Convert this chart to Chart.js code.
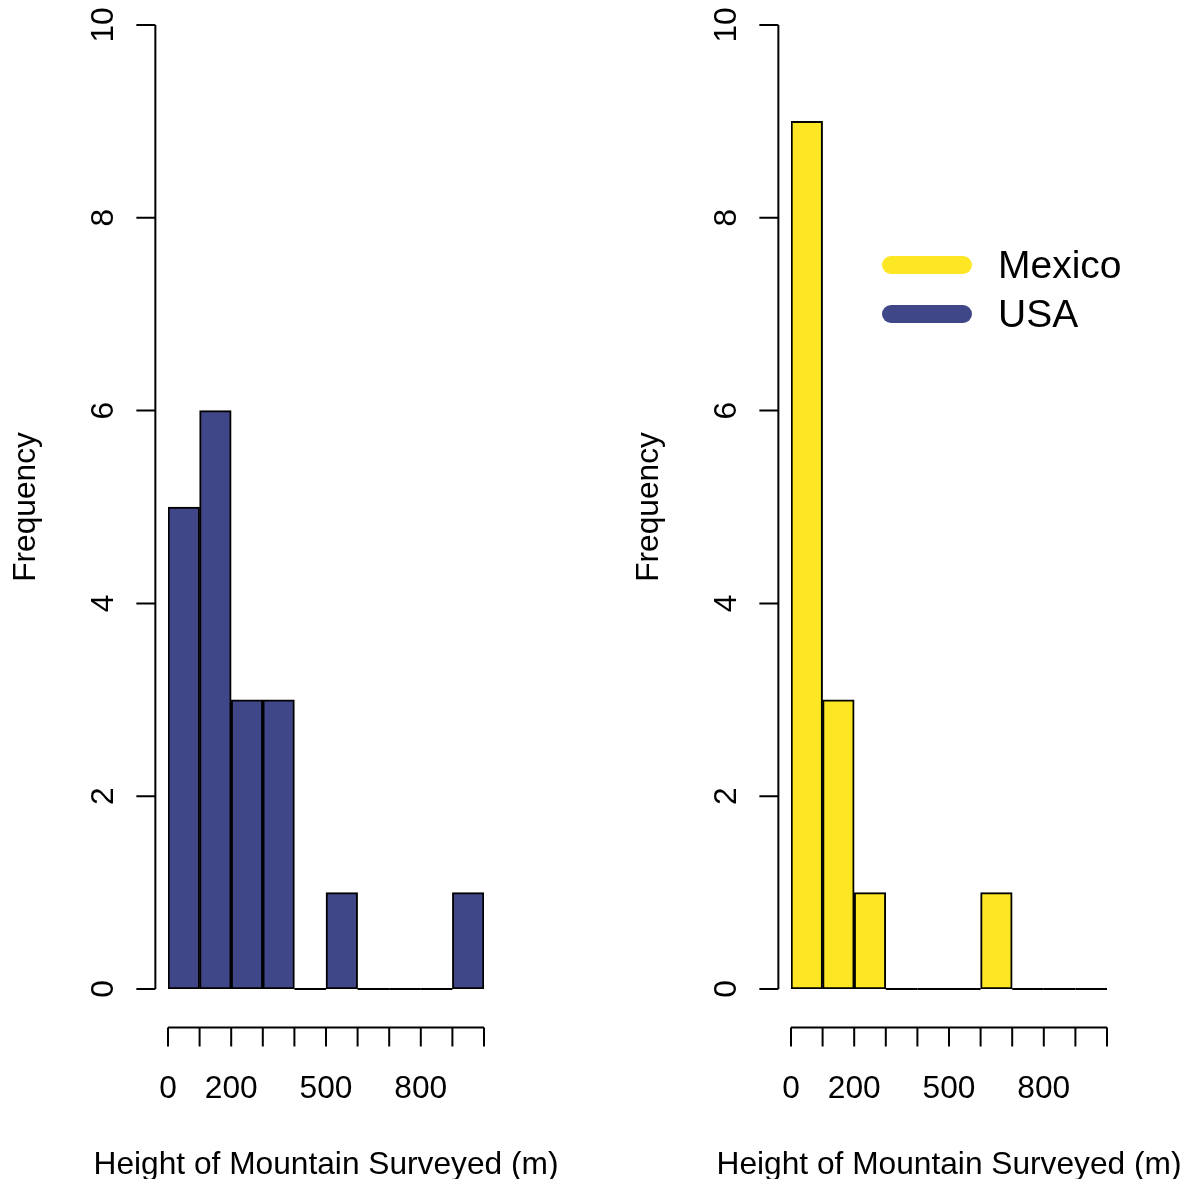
<!DOCTYPE html>
<html>
<head>
<meta charset="utf-8">
<script src="https://cdn.jsdelivr.net/npm/chart.js@4"></script>
<style>
  body { margin: 0; background: #fff; }
  #wrap { position: relative; width: 1191px; height: 1179px; }
  canvas { position: absolute; top: 0; }
</style>
</head>
<body>
<div id="wrap">
  <canvas id="usa" width="595" height="1179" style="left:0"></canvas>
  <canvas id="mex" width="596" height="1179" style="left:595px"></canvas>
</div>
<script>
// histogram bins (m), 100 m wide
const binStarts = [0, 100, 200, 300, 400, 500, 600, 700, 800, 900];
const binWidth = 100;
const usaCounts = [5, 6, 3, 3, 0, 1, 0, 0, 0, 1];
const mexicoCounts = [9, 3, 1, 0, 0, 0, 1, 0, 0, 0];

const xTicks = [0, 100, 200, 300, 400, 500, 600, 700, 800, 900, 1000];
const xTickLabels = [0, 200, 500, 800];
const yTicks = [0, 2, 4, 6, 8, 10];

const legendLabels = ['Mexico', 'USA'];
const legendColors = ['#FDE725', '#404788'];

const FONT = '31.7px "Liberation Sans", Arial, sans-serif';
const LEGEND_FONT = '39px "Liberation Sans", Arial, sans-serif';

// R style axes: detached from the plot, 4% extension of the ranges
const rAxes = {
  id: 'rAxes',
  afterDatasetsDraw(chart) {
    const ctx = chart.ctx;
    const x = chart.scales.x, y = chart.scales.y;
    const ext = (x.max - x.min) * 0.04, extY = (y.max - y.min) * 0.04;
    const axX = x.getPixelForValue(x.min - ext);
    const axY = y.getPixelForValue(y.min - extY);
    const tick = 19;

    ctx.save();
    ctx.strokeStyle = '#000';
    ctx.lineWidth = 2;
    ctx.fillStyle = '#000';
    ctx.font = FONT;

    // zero-height bins show up as a flat line
    chart.getDatasetMeta(0).data.forEach((el, i) => {
      if (chart.data.datasets[0].data[i].y === 0) {
        ctx.beginPath();
        ctx.moveTo(el.x - el.width / 2, el.y);
        ctx.lineTo(el.x + el.width / 2, el.y);
        ctx.stroke();
      }
    });

    // y axis
    ctx.beginPath();
    ctx.moveTo(axX, y.getPixelForValue(yTicks[0]));
    ctx.lineTo(axX, y.getPixelForValue(yTicks[yTicks.length - 1]));
    yTicks.forEach(v => {
      const p = y.getPixelForValue(v);
      ctx.moveTo(axX, p);
      ctx.lineTo(axX - tick, p);
    });
    ctx.stroke();
    ctx.textAlign = 'center';
    ctx.textBaseline = 'alphabetic';
    yTicks.forEach(v => {
      ctx.save();
      ctx.translate(axX - 42, y.getPixelForValue(v));
      ctx.rotate(-Math.PI / 2);
      ctx.fillText(String(v), 0, 0);
      ctx.restore();
    });

    // x axis
    ctx.beginPath();
    ctx.moveTo(x.getPixelForValue(xTicks[0]), axY);
    ctx.lineTo(x.getPixelForValue(xTicks[xTicks.length - 1]), axY);
    xTicks.forEach(v => {
      const p = x.getPixelForValue(v);
      ctx.moveTo(p, axY);
      ctx.lineTo(p, axY + tick);
    });
    ctx.stroke();
    xTickLabels.forEach(v => {
      ctx.fillText(String(v), x.getPixelForValue(v), axY + 70);
    });

    // titles
    const midX = (x.getPixelForValue(x.min - ext) + x.getPixelForValue(x.max + ext)) / 2;
    ctx.fillText('Height of Mountain Surveyed (m)', midX, axY + 146);
    const midY = (y.getPixelForValue(y.min - extY) + y.getPixelForValue(y.max + extY)) / 2;
    ctx.save();
    ctx.translate(axX - 120, midY);
    ctx.rotate(-Math.PI / 2);
    ctx.fillText('Frequency', 0, 0);
    ctx.restore();

    ctx.restore();
  }
};

const rLegend = {
  id: 'rLegend',
  afterDraw(chart, args, opts) {
    if (!opts.show) return;
    const ctx = chart.ctx;
    ctx.save();
    ctx.font = LEGEND_FONT;
    ctx.lineCap = 'round';
    ctx.lineWidth = 18;
    legendLabels.forEach((lab, i) => {
      const yy = opts.top + i * 49;
      ctx.strokeStyle = legendColors[i];
      ctx.beginPath();
      ctx.moveTo(opts.left, yy);
      ctx.lineTo(opts.left + 72, yy);
      ctx.stroke();
      ctx.fillStyle = '#000';
      ctx.textBaseline = 'alphabetic';
      ctx.fillText(lab, opts.left + 107, yy + 13);
    });
    ctx.restore();
  }
};

function histChart(id, counts, color, padding, legend) {
  return new Chart(document.getElementById(id), {
    type: 'bar',
    data: {
      datasets: [{
        data: binStarts.map((s, i) => ({ x: s + binWidth / 2, y: counts[i] })),
        backgroundColor: color,
        borderColor: '#000',
        borderWidth: 2,
        borderSkipped: false,
        barPercentage: 1,
        categoryPercentage: 1
      }]
    },
    options: {
      responsive: false,
      animation: false,
      layout: { padding: padding },
      scales: {
        x: { type: 'linear', min: 0, max: 1000, offset: false, display: false },
        y: { min: 0, max: 10, display: false }
      },
      plugins: {
        legend: { display: false },
        tooltip: { enabled: false },
        rLegend: legend
      }
    },
    plugins: [rAxes, rLegend]
  });
}

histChart('usa', usaCounts, legendColors[1],
  { left: 168, right: 111, top: 25, bottom: 190 }, { show: false });
histChart('mex', mexicoCounts, legendColors[0],
  { left: 196, right: 84, top: 25, bottom: 190 }, { show: true, left: 296, top: 265 });
</script>
</body>
</html>
